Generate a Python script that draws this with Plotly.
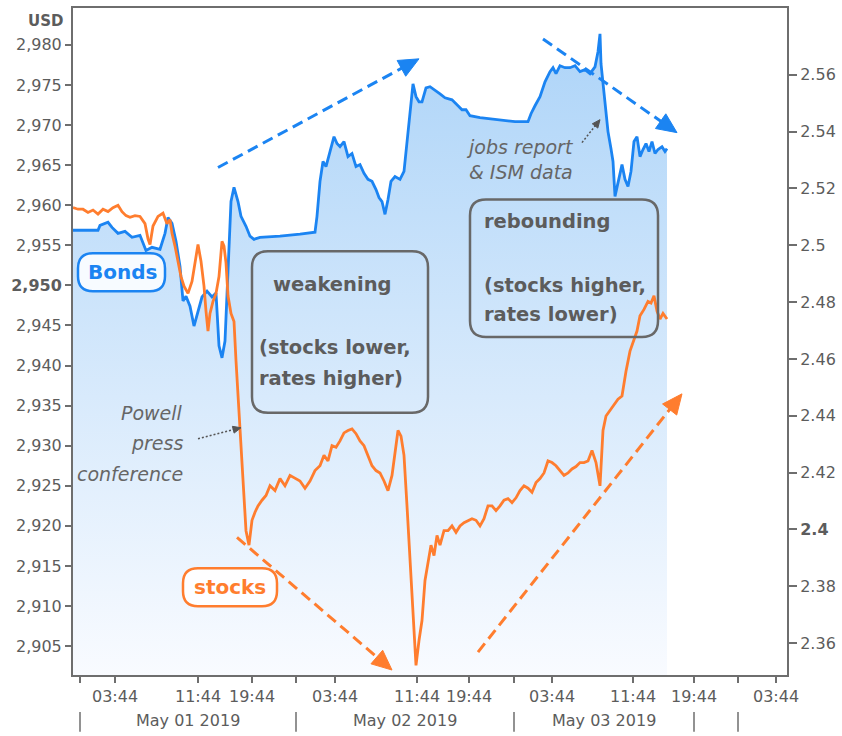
import math
import plotly.graph_objects as go

# ---------------- data ----------------
# x = intraday bar position (session-compressed time axis)
bar_stocks = [-7, -2, 3, 8, 13, 18, 23, 28, 33, 38, 42, 46, 50, 55, 60, 65, 68, 70, 73, 78, 83, 87, 90,
              92, 95, 98, 101, 104, 108, 112, 115, 118, 121, 124, 126, 128, 130, 133, 136, 139, 142, 144,
              146, 148, 151, 154, 156, 158, 160, 162, 164, 166, 169, 172, 175, 178, 182, 186, 190, 195,
              200, 205, 210, 215, 220, 225, 230, 235, 240, 244, 248, 252, 256, 260, 264, 268, 272, 276,
              280, 284, 288, 292, 296, 300, 304, 308, 312, 315, 318, 321, 324, 327, 330, 333, 336, 339,
              342, 345, 348, 351, 354, 357, 360, 364, 368, 372, 376, 380, 384, 388, 392, 396, 400, 404,
              408, 412, 416, 420, 424, 428, 432, 436, 440, 444, 448, 452, 456, 460, 464, 468, 472, 476,
              480, 484, 488, 492, 496, 500, 504, 508, 512, 516, 520, 523, 526, 530, 534, 538, 542, 546,
              550, 553, 557, 560, 564, 568, 571, 574, 577, 580, 583, 587]
stocks = [2959.7, 2959.5, 2959.5, 2959.1, 2959.4, 2958.9, 2959.5, 2959.2, 2959.7, 2960.0, 2959.2,
          2958.7, 2958.5, 2958.7, 2958.6, 2957.7, 2955.8, 2955.1, 2957.4, 2958.6, 2959.0, 2957.7,
          2958.2, 2956.5, 2954.9, 2952.8, 2951.1, 2949.9, 2949.0, 2950.5, 2952.8, 2955.1, 2953.0,
          2949.9, 2946.8, 2944.3, 2946.5, 2948.0, 2949.0, 2951.1, 2955.5, 2954.9, 2952.8, 2948.7,
          2946.5, 2945.5, 2940.6, 2936.2, 2931.9, 2927.5, 2923.2, 2919.4, 2917.6, 2920.7, 2921.7,
          2922.5, 2923.2, 2923.8, 2925.0, 2924.4, 2925.9, 2925.0, 2926.3, 2925.9, 2925.6, 2924.7,
          2925.6, 2926.9, 2927.5, 2928.8, 2928.1, 2930.0, 2929.8, 2930.6, 2931.6, 2931.9, 2932.1,
          2931.5, 2930.6, 2930.0, 2928.8, 2927.5, 2926.9, 2926.6, 2925.6, 2924.4, 2926.3, 2929.4,
          2931.9, 2931.2, 2928.8, 2922.5, 2915.7, 2908.2, 2902.6, 2905.7, 2908.2, 2913.2, 2915.7,
          2917.6, 2916.3, 2918.8, 2917.6, 2919.4, 2919.4, 2920.0, 2919.2, 2920.0, 2920.4, 2920.7,
          2920.9, 2920.7, 2920.0, 2920.9, 2922.5, 2922.5, 2921.9, 2922.5, 2923.2, 2923.4, 2922.9,
          2923.5, 2924.4, 2925.0, 2924.7, 2924.2, 2925.4, 2925.9, 2926.6, 2928.1, 2927.9, 2927.5,
          2926.9, 2926.3, 2926.6, 2927.1, 2927.4, 2927.9, 2927.9, 2928.1, 2929.4, 2927.9, 2925.0,
          2931.9, 2933.7, 2934.4, 2935.0, 2935.8, 2936.2, 2939.3, 2941.8, 2942.8, 2944.3, 2946.2,
          2947.0, 2948.0, 2947.8, 2948.7, 2946.8, 2945.8, 2946.5, 2945.8]

bar_bonds = [-7, 18, 20, 28, 32, 38, 45, 52, 60, 66, 72, 80, 85, 88, 92, 96, 100, 103, 106, 110, 114,
             118, 122, 127, 132, 136, 139, 142, 145, 148, 151, 154, 158, 161, 166, 170, 174, 180, 200,
             220, 235, 237, 240, 243, 246, 250, 254, 257, 260, 264, 268, 272, 276, 280, 284, 288, 292,
             296, 299, 302, 305, 308, 311, 315, 320, 324, 327, 330, 333, 336, 339, 342, 346, 350, 355,
             360, 365, 372, 378, 382, 386, 390, 400, 420, 435, 448, 451, 455, 460, 465, 470, 473, 476,
             480, 485, 490, 495, 500, 505, 510, 515, 518, 520, 521, 523, 525, 528, 531, 533, 535, 537,
             539, 542, 545, 548, 551, 554, 557, 560, 563, 566, 569, 572, 575, 578, 582, 585, 587]
bonds = [2.5053, 2.5053, 2.5070, 2.5081, 2.5063, 2.5042, 2.5049, 2.5028, 2.5035, 2.4982, 2.4993,
         2.4986, 2.5042, 2.5098, 2.5077, 2.5014, 2.4926, 2.4804, 2.4821, 2.4786, 2.4716, 2.4768,
         2.4818, 2.4839, 2.4818, 2.4832, 2.4646, 2.4604, 2.4663, 2.4909, 2.5154, 2.5204, 2.5154,
         2.5102, 2.5067, 2.5032, 2.5021, 2.5028, 2.5032, 2.5039, 2.5046, 2.5102, 2.5225, 2.5295,
         2.5277, 2.5330, 2.5382, 2.5358, 2.5347, 2.5365, 2.5312, 2.5323, 2.5277, 2.5284, 2.5253,
         2.5232, 2.5225, 2.5196, 2.5168, 2.5154, 2.5109, 2.5161, 2.5225, 2.5242, 2.5232, 2.5260,
         2.5365, 2.5470, 2.5568, 2.5523, 2.5505, 2.5505, 2.5554, 2.5558, 2.5547, 2.5533, 2.5519,
         2.5512, 2.5491, 2.5477, 2.5477, 2.5456, 2.5449, 2.5442, 2.5435, 2.5435, 2.5463, 2.5491,
         2.5523, 2.5575, 2.5611, 2.5625, 2.5604, 2.5632, 2.5625, 2.5625, 2.5632, 2.5611, 2.5618,
         2.5604, 2.5628, 2.5681, 2.5744, 2.5639, 2.5575, 2.5516, 2.5400, 2.5340, 2.5295, 2.5172,
         2.5207, 2.5242, 2.5284, 2.5232, 2.5207, 2.5260, 2.5365, 2.5382, 2.5312, 2.5337, 2.5358,
         2.5330, 2.5365, 2.5323, 2.5337, 2.5347, 2.5330, 2.5340]

time_tick_pos = [0, 35, 118, 172, 216, 255, 337, 389, 434, 472, 553, 614, 658, 696]
time_tick_text = ["", "03:44", "11:44", "19:44", "", "03:44", "11:44", "19:44",
                  "", "03:44", "11:44", "19:44", "", "03:44"]
day_sep_pos = [0, 216, 434, 614, 658]
day_label_pos = [108, 325, 524]
day_labels = ["May 01 2019", "May 02 2019", "May 03 2019"]

usd_ticks = [2905, 2910, 2915, 2920, 2925, 2930, 2935, 2940, 2945, 2950, 2955, 2960, 2965,
             2970, 2975, 2980]
usd_tick_text = ["2,905", "2,910", "2,915", "2,920", "2,925", "2,930", "2,935", "2,940",
                 "2,945", "<b>2,950</b>", "2,955", "2,960", "2,965", "2,970", "2,975", "2,980"]
yield_ticks = [2.36, 2.38, 2.40, 2.42, 2.44, 2.46, 2.48, 2.50, 2.52, 2.54, 2.56]
yield_tick_text = ["2.36", "2.38", "<b>2.4</b>", "2.42", "2.44", "2.46", "2.48", "2.5",
                   "2.52", "2.54", "2.56"]

x_range = [-7, 707]
usd_range = [2901.4, 2984.6]
yield_range = [2.3488, 2.5835]

# ---------------- styling / layout helpers ----------------
W, H = 842, 736
ML, MR, MT, MB = 73, 55, 6, 61
PW, PH = W - ML - MR, H - MT - MB
BLUE = "#1b84f2"
ORANGE = "#ff7d2e"
GRAY = "#5c5c5c"
BOXGRAY = "#686868"
AXIS = "#6e6e6e"
FONT = "DejaVu Sans"


def pp(x, y):
    """pixel position -> paper fraction"""
    return (x - ML) / PW, (MT + PH - y) / PH


def rrect(x0, y0, x1, y1, r, color, width, fill="rgba(0,0,0,0)"):
    pts = [("M", x0 + r, y0), ("L", x1 - r, y0), ("Q", x1, y0, x1, y0 + r), ("L", x1, y1 - r),
           ("Q", x1, y1, x1 - r, y1), ("L", x0 + r, y1), ("Q", x0, y1, x0, y1 - r),
           ("L", x0, y0 + r), ("Q", x0, y0, x0 + r, y0)]
    parts = []
    for p in pts:
        cmd = p[0]
        coords = p[1:]
        s = []
        for i in range(0, len(coords), 2):
            a, b = pp(coords[i], coords[i + 1])
            s.append(f"{a:.5f},{b:.5f}")
        parts.append(cmd + " ".join(s))
    return dict(type="path", xref="paper", yref="paper", path=" ".join(parts) + " Z",
                line=dict(color=color, width=width), fillcolor=fill, layer="above")


def arrow(x0, y0, x1, y1, color, width, dash, hl, hw):
    dx, dy = x1 - x0, y1 - y0
    n = math.hypot(dx, dy)
    ux, uy = dx / n, dy / n
    bx, by = x1 - ux * hl, y1 - uy * hl
    a0 = pp(x0, y0)
    a1 = pp(bx + ux * 2, by + uy * 2)
    line = dict(type="line", xref="paper", yref="paper", x0=a0[0], y0=a0[1], x1=a1[0], y1=a1[1],
                line=dict(color=color, width=width, dash=dash), layer="above")
    t = pp(x1, y1)
    l = pp(bx - uy * hw, by + ux * hw)
    r = pp(bx + uy * hw, by - ux * hw)
    head = dict(type="path", xref="paper", yref="paper",
                path=f"M{t[0]:.5f},{t[1]:.5f} L{l[0]:.5f},{l[1]:.5f} L{r[0]:.5f},{r[1]:.5f} Z",
                line=dict(color=color, width=1), fillcolor=color, layer="above")
    return [line, head]


def label(text, x, y, size, color, xanchor="left", bold=False, italic=False):
    px, py = pp(x, y)
    return dict(text=f"<b>{text}</b>" if bold else text, x=px, y=py, xref="paper", yref="paper",
                xanchor=xanchor, yanchor="middle", showarrow=False,
                font=dict(family=FONT, size=size, color=color,
                          style="italic" if italic else "normal"))


# ---------------- figure ----------------
fig = go.Figure()

fig.add_trace(go.Scatter(
    x=bar_bonds, y=bonds, yaxis="y", mode="lines", name="Bonds",
    line=dict(color=BLUE, width=2.8), fill="tozeroy",
    fillgradient=dict(type="vertical", start=yield_range[0], stop=2.575,
                      colorscale=[[0, "#f9fbff"], [1, "#add4f8"]]),
    hoverinfo="skip"))

fig.add_trace(go.Scatter(
    x=bar_stocks, y=stocks, yaxis="y2", mode="lines", name="stocks",
    line=dict(color=ORANGE, width=2.8), hoverinfo="skip"))

shapes = []
# day separators under the time labels
for s in day_sep_pos:
    shapes.append(dict(type="line", xref="x", yref="paper", x0=s, x1=s,
                       y0=pp(0, 712)[1], y1=pp(0, 732)[1],
                       line=dict(color=AXIS, width=1.5)))

# rounded boxes
shapes.append(rrect(252, 250, 428, 412, 16, BOXGRAY, 2.5))
shapes.append(rrect(470, 198, 658, 336, 16, BOXGRAY, 2.5))
shapes.append(rrect(78, 252, 165, 290, 15, BLUE, 2.5, "rgba(255,255,255,0.85)"))
shapes.append(rrect(183, 568, 277, 606, 15, ORANGE, 2.5, "rgba(255,255,255,0.9)"))

# dashed trend arrows
shapes += arrow(218, 166, 419, 57, BLUE, 3, "11px,6px", 20, 9)
shapes += arrow(543, 37, 677, 131, BLUE, 3, "11px,6px", 20, 9)
shapes += arrow(237, 537, 392, 670, ORANGE, 3, "11px,6px", 20, 9)
shapes += arrow(478, 652, 682, 393, ORANGE, 3, "11px,6px", 20, 9)
# dotted callout arrows
shapes += arrow(198, 438, 241, 427, "#555555", 1.5, "2px,2px", 8, 3.5)
shapes += arrow(582, 141, 600, 118, "#555555", 1.5, "2px,2px", 8, 3.5)

annotations = [
    label("USD", 45, 19, 15, GRAY, xanchor="center", bold=True),
    label("Bonds", 122, 271, 20, BLUE, xanchor="center", bold=True),
    label("stocks", 230, 587, 20, ORANGE, xanchor="center", bold=True),
    label("weakening", 271, 283, 19.5, GRAY, bold=True),
    label("(stocks lower,", 257, 347, 19.5, GRAY, bold=True),
    label("rates higher)", 257, 378, 19.5, GRAY, bold=True),
    label("rebounding", 482, 220, 19.5, GRAY, bold=True),
    label("(stocks higher,", 482, 284, 19.5, GRAY, bold=True),
    label("rates lower)", 482, 313, 19.5, GRAY, bold=True),
    label("Powell", 185, 412, 19, "#666666", xanchor="right", italic=True),
    label("press", 185, 442, 19, "#666666", xanchor="right", italic=True),
    label("conference", 185, 473, 19, "#666666", xanchor="right", italic=True),
    label("jobs report", 464, 145, 19, "#666666", italic=True),
    label("&amp; ISM data", 467, 170, 19, "#666666", italic=True),
]
for pos, txt in zip(day_label_pos, day_labels):
    annotations.append(dict(text=txt, x=pos, y=pp(0, 721)[1], xref="x", yref="paper",
                            xanchor="center", yanchor="middle", showarrow=False,
                            font=dict(family=FONT, size=16, color=GRAY)))

fig.update_layout(
    width=W, height=H, autosize=False,
    margin=dict(l=ML, r=MR, t=MT, b=MB, pad=0),
    paper_bgcolor="white", plot_bgcolor="white",
    showlegend=False,
    font=dict(family=FONT, size=16, color=GRAY),
    xaxis=dict(range=x_range, tickmode="array", tickvals=time_tick_pos, ticktext=time_tick_text,
               ticks="outside", ticklen=6, tickwidth=1.5, tickcolor=AXIS,
               showline=True, linecolor=AXIS, linewidth=2, mirror=True,
               showgrid=False, zeroline=False, tickfont=dict(size=16, color=GRAY)),
    yaxis=dict(range=yield_range, side="right", tickmode="array", tickvals=yield_ticks,
               ticktext=yield_tick_text, ticks="outside", ticklen=8, tickwidth=1.5,
               tickcolor=AXIS, showline=True, linecolor=AXIS, linewidth=2, mirror=True,
               showgrid=False, zeroline=False, tickfont=dict(size=16, color=GRAY)),
    yaxis2=dict(range=usd_range, side="left", overlaying="y", tickmode="array",
                tickvals=usd_ticks, ticktext=usd_tick_text, ticks="outside", ticklen=7,
                tickwidth=1.5, tickcolor=AXIS, showline=False, showgrid=False,
                zeroline=False, tickfont=dict(size=16, color=GRAY)),
    shapes=shapes,
    annotations=annotations,
)

fig.write_html("out.html", config={"displayModeBar": False},
               post_script="document.body.style.margin='0';")
